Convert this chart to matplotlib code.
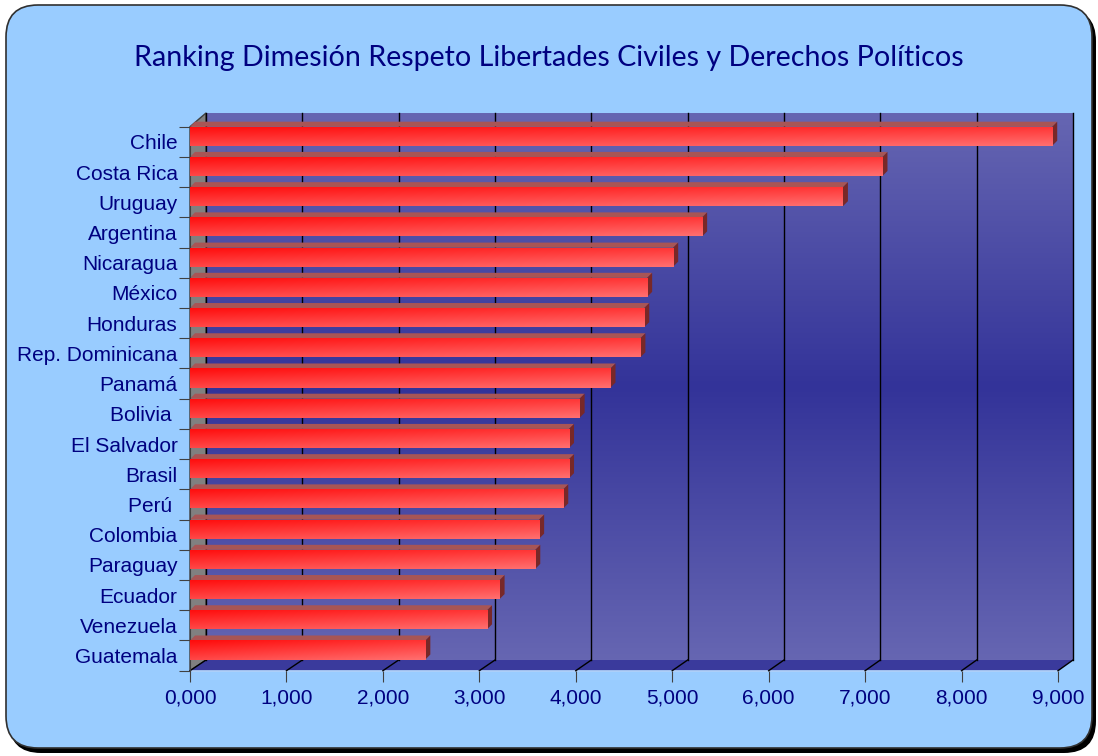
import numpy as np
import matplotlib.pyplot as plt
from matplotlib.patches import FancyBboxPatch, Polygon
from matplotlib.transforms import IdentityTransform

plt.rcParams['font.family'] = ['Liberation Sans', 'DejaVu Sans']

paises = ['Chile', 'Costa Rica', 'Uruguay', 'Argentina', 'Nicaragua', 'México',
          'Honduras', 'Rep. Dominicana', 'Panamá', 'Bolivia ', 'El Salvador',
          'Brasil', 'Perú ', 'Colombia', 'Paraguay', 'Ecuador', 'Venezuela',
          'Guatemala']
valores = [8.94, 7.18, 6.77, 5.31, 5.01, 4.74, 4.71, 4.67, 4.36, 4.04, 3.93,
           3.93, 3.87, 3.62, 3.58, 3.21, 3.08, 2.44]
ticks_x = [0, 1, 2, 3, 4, 5, 6, 7, 8, 9]
titulo = 'Ranking Dimesión Respeto Libertades Civiles y Derechos Políticos'

W, H = 1098, 756
fig = plt.figure(figsize=(W / 100, H / 100), dpi=100)
fig.patch.set_facecolor('white')

# marco redondeado con sombra (coordenadas en pixeles)
sombra = FancyBboxPatch((9, 3), 1087, 744, boxstyle='round,pad=0,rounding_size=32',
                        transform=IdentityTransform(), fc='black', ec='none', zorder=-3)
marco = FancyBboxPatch((6, 8), 1086, 743, boxstyle='round,pad=0,rounding_size=32',
                       transform=IdentityTransform(), fc='#99CCFF', ec='#303030',
                       lw=1.2, zorder=-2)
fig.add_artist(sombra)
fig.add_artist(marco)

fig.text(0.5, 1 - 66 / H, titulo, ha='center', va='baseline', fontsize=20.6,
         color='#000080', family=['Lato', 'DejaVu Sans'])

# plano frontal y pared del fondo
fx0, fx1, fy0, fy1 = 190, 1058, 126.7, 670.7
bx0, bx1, by0, by1 = 206, 1073, 113, 660
axb = fig.add_axes([bx0 / W, 1 - by1 / H, (bx1 - bx0) / W, (by1 - by0) / H], zorder=0)
ax = fig.add_axes([fx0 / W, 1 - fy1 / H, (fx1 - fx0) / W, (fy1 - fy0) / H], zorder=1)

n = len(paises)
ax.set_xlim(0, 9)
ax.set_ylim(n, 0)
axb.set_xlim(0, 9)
axb.set_ylim(0, 1)

# degradado de la pared
t = np.abs(np.linspace(-1, 1, 256))[:, None, None]
claro = np.array([102, 102, 178]) / 255
oscuro = np.array([51, 51, 153]) / 255
fondo = oscuro + t * (claro - oscuro)
axb.imshow(fondo, aspect='auto', extent=(0, 9, 0, 1), origin='upper')
axb.set_xlim(0, 9)
axb.set_ylim(0, 1)
for v in ticks_x:
    axb.axvline(v, color='black', lw=1, clip_on=False)
axb.axis('off')


def front(x, y):
    return ax.transData.transform((x, y))


def back(x, y):
    return axb.transData.transform((x, y))


pared = Polygon([front(0, n), front(0, 0), back(0, 1), back(0, 0)],
                closed=True, fc='#808080', ec='#404040', lw=1,
                transform=IdentityTransform(), clip_on=False)
axb.add_patch(pared)
piso = Polygon([front(0, n), front(9, n), back(9, 0), back(0, 0)],
               closed=True, fc='#3A3A9C', ec='none',
               transform=IdentityTransform(), clip_on=False)
axb.add_patch(piso)
axb.plot(*zip(front(0, n), front(9, n)), color='#B0D0F8', lw=1.2,
         transform=IdentityTransform(), clip_on=False)
for v in ticks_x:
    axb.plot(*zip(front(v, n), back(v, 0)), color='black', lw=1,
             transform=IdentityTransform(), clip_on=False)

# barras
ax.patch.set_visible(False)
yy, xx = np.mgrid[0:1:64j, 0:1:256j]
tt = 0.6 * yy + 0.4 * xx
rojo = np.array([255, 10, 10]) / 255
salmon = np.array([255, 112, 112]) / 255
grad = rojo + tt[..., None] * (salmon - rojo)

alto = 0.63
barras = ax.barh(np.arange(n) + alto / 2, valores, height=alto, color='#FF5050', zorder=3)
d = np.array([5, 5])
for i, (b, v) in enumerate(zip(barras, valores)):
    y0, y1 = i, i + alto
    im = ax.imshow(grad, extent=(0, v, y1, y0), aspect='auto', origin='upper',
                   zorder=4, interpolation='bilinear')
    im.set_clip_path(b)
    p_tl, p_tr, p_br = front(0, y0), front(v, y0), front(v, y1)
    ax.add_patch(Polygon([p_tl, p_tr, p_tr + d, p_tl + d], closed=True,
                         fc='#A85555', ec='none', transform=IdentityTransform(),
                         clip_on=False, zorder=2))
    ax.add_patch(Polygon([p_tr, p_br, p_br + d, p_tr + d], closed=True,
                         fc='#782828', ec='none', transform=IdentityTransform(),
                         clip_on=False, zorder=2))

ax.set_xlim(0, 9)
ax.set_ylim(n, 0)

for s in ['top', 'right', 'bottom']:
    ax.spines[s].set_visible(False)
ax.spines['left'].set_color('#404040')

ax.set_yticks(range(n + 1))
ax.set_yticklabels([])
ax.set_yticks(np.arange(n) + 0.5, minor=True)
ax.set_yticklabels(paises, minor=True)
ax.tick_params(axis='y', which='major', length=8, color='#404040', direction='out')
ax.tick_params(axis='y', which='minor', length=0, pad=9, labelsize=15,
               labelcolor='#000080')
ax.set_xticks(ticks_x)
ax.set_xticklabels([f'{v:.3f}'.replace('.', ',') for v in ticks_x])
ax.tick_params(axis='x', length=8, color='#404040', pad=5, labelsize=15,
               labelcolor='#000080')

fig.savefig('out.png', dpi=100)
